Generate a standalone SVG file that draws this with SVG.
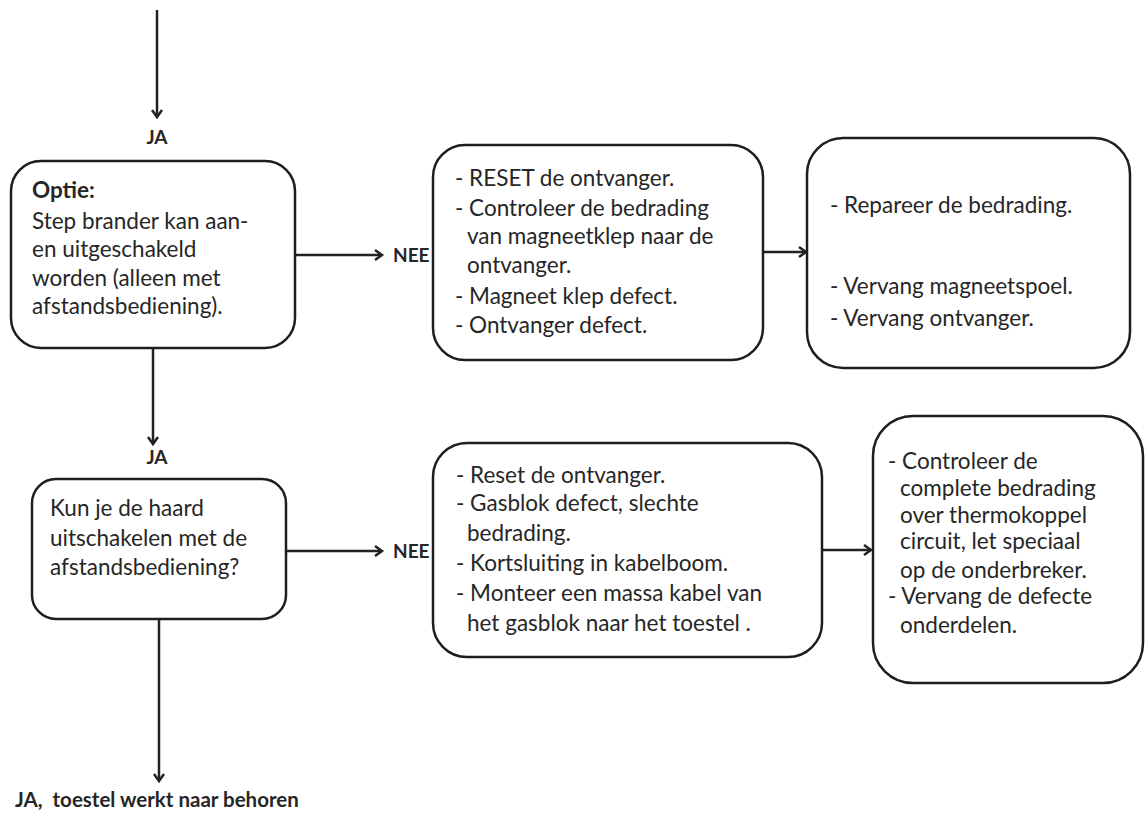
<svg xmlns="http://www.w3.org/2000/svg" width="1146" height="814" viewBox="0 0 1146 814">
<defs>
<marker id="ah" markerWidth="12" markerHeight="12" refX="9" refY="6" orient="auto" markerUnits="userSpaceOnUse">
<path d="M2,1 L9,6 L2,11" fill="none" stroke="#222" stroke-width="2.5"/>
</marker>
<style>
.box{fill:#fff;stroke:#1e1e1e;stroke-width:2.5}
.t{font-family:Lato,"Liberation Sans",sans-serif;font-size:22.5px;fill:#262626}
.b{font-family:Lato,"Liberation Sans",sans-serif;font-size:19px;font-weight:bold;fill:#262626}
.c{stroke:#222;stroke-width:2.5;fill:none;marker-end:url(#ah)}
</style>
</defs>
<rect width="1146" height="814" fill="#fff"/>
<g id="connectors">
<line class="c" x1="157" y1="10" x2="157" y2="117"/>
<line class="c" x1="295" y1="255" x2="382" y2="255"/>
<line class="c" x1="763" y1="252" x2="806" y2="252"/>
<line class="c" x1="153" y1="348" x2="153" y2="444"/>
<line class="c" x1="286" y1="551" x2="382" y2="551"/>
<line class="c" x1="822" y1="550" x2="871" y2="550"/>
<line class="c" x1="159" y1="619" x2="159" y2="781"/>
</g>
<g id="labels">
<text class="b" x="157" y="144" text-anchor="middle">JA</text>
<text class="b" x="393" y="262">NEE</text>
<text class="b" x="157" y="464" text-anchor="middle">JA</text>
<text class="b" x="393" y="558">NEE</text>
<text class="b" x="15" y="807" style="font-size:20.5px" xml:space="preserve">JA,  toestel werkt naar behoren</text>
</g>
<g id="node1">
<rect class="box" x="11" y="161" width="284" height="187" rx="30"/>
<text class="t" x="32" y="198" font-weight="bold">Optie:</text>
<text class="t" x="32" y="229">Step brander kan aan-</text>
<text class="t" x="32" y="257">en uitgeschakeld</text>
<text class="t" x="32" y="286">worden (alleen met</text>
<text class="t" x="32" y="314">afstandsbediening).</text>
</g>
<g id="node2">
<rect class="box" x="433" y="145" width="330" height="215" rx="32"/>
<text class="t" x="455" y="186">- RESET de ontvanger.</text>
<text class="t" x="455" y="216">- Controleer de bedrading</text>
<text class="t" x="467" y="244">van magneetklep naar de</text>
<text class="t" x="467" y="273">ontvanger.</text>
<text class="t" x="455" y="304">- Magneet klep defect.</text>
<text class="t" x="455" y="333">- Ontvanger defect.</text>
</g>
<g id="node3">
<rect class="box" x="807" y="138" width="323" height="230" rx="36"/>
<text class="t" x="830" y="213">- Repareer de bedrading.</text>
<text class="t" x="830" y="294">- Vervang magneetspoel.</text>
<text class="t" x="830" y="326">- Vervang ontvanger.</text>
</g>
<g id="node4">
<rect class="box" x="32" y="479" width="254" height="140" rx="24"/>
<text class="t" x="50" y="516">Kun je de haard</text>
<text class="t" x="50" y="546">uitschakelen met de</text>
<text class="t" x="50" y="575">afstandsbediening?</text>
</g>
<g id="node5">
<rect class="box" x="433" y="443" width="389" height="214" rx="34"/>
<text class="t" x="456" y="483">- Reset de ontvanger.</text>
<text class="t" x="456" y="511">- Gasblok defect, slechte</text>
<text class="t" x="467" y="541">bedrading.</text>
<text class="t" x="456" y="571">- Kortsluiting in kabelboom.</text>
<text class="t" x="456" y="601">- Monteer een massa kabel van</text>
<text class="t" x="467" y="631">het gasblok naar het toestel .</text>
</g>
<g id="node6">
<rect class="box" x="873" y="416" width="270" height="267" rx="40"/>
<text class="t" x="888" y="469">- Controleer de</text>
<text class="t" x="900" y="496">complete bedrading</text>
<text class="t" x="900" y="523">over thermokoppel</text>
<text class="t" x="900" y="549">circuit, let speciaal</text>
<text class="t" x="900" y="578">op de onderbreker.</text>
<text class="t" x="888" y="604">- Vervang de defecte</text>
<text class="t" x="900" y="633">onderdelen.</text>
</g>
</svg>
